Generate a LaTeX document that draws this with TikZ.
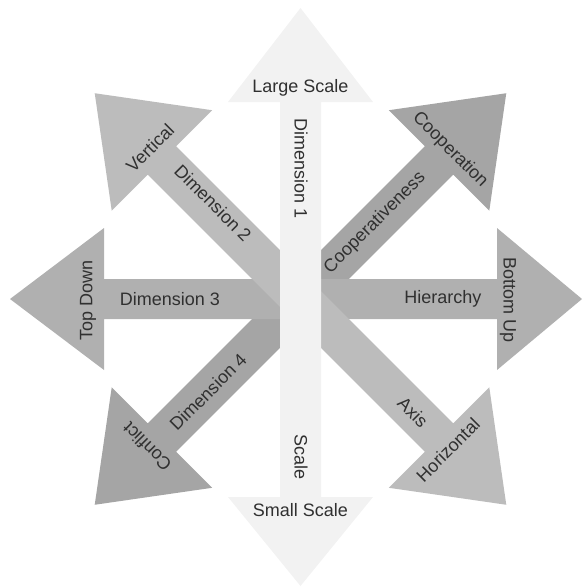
\documentclass[tikz,border=0pt]{standalone}
\usepackage{fontspec}
\setmainfont{Liberation Sans}
\definecolor{vlight}{HTML}{F2F2F2}
\definecolor{hgray}{HTML}{B0B0B0}
\definecolor{lgray}{HTML}{BCBCBC}
\definecolor{dgray}{HTML}{A5A5A5}
\definecolor{txt}{HTML}{303030}
\newcommand\diagarrow[2]{%
  \fill[#2, shift={(C)}, rotate=#1] (0,-20) -- (196,-20) -- (196,-71) -- (291,0) -- (196,71) -- (196,20) -- (0,20) -- cycle;}
\begin{document}
\begin{tikzpicture}[x=1pt,y=-1pt,
  lbl/.style={font=\fontsize{18}{20}\selectfont, text=txt, inner sep=0pt}]
\useasboundingbox (0,0) rectangle (583,587);
\coordinate (C) at (300.5,299);
% lower diagonals
\diagarrow{45}{dgray}
\diagarrow{225}{dgray}
% horizontal double arrow
\fill[hgray] (10,299) -- (104,228) -- (104,279) -- (497,279) -- (497,228) -- (582,299)
  -- (497,370) -- (497,319) -- (104,319) -- (104,370) -- cycle;
% upper diagonals
\diagarrow{135}{lgray}
\diagarrow{315}{lgray}
% vertical double arrow
\fill[vlight] (300.5,8) -- (373,102) -- (321,102) -- (321,497) -- (373,497) -- (300.5,586)
  -- (228,497) -- (280,497) -- (280,102) -- (228,102) -- cycle;
% labels
\node[lbl] (ls) at (300.5,88) {Large Scale};
\node[lbl, rotate=-90] (d1) at (301,169) {Dimension 1};
\node[lbl, rotate=-90] (sc) at (301,457) {Scale};
\node[lbl] (ss) at (300.5,510) {Small Scale};
\node[lbl] (d3) at (170,299) {Dimension 3};
\node[lbl, rotate=90] (td) at (88,300) {Top Down};
\node[lbl] (hi) at (443,299) {Hierarchy};
\node[lbl, rotate=-90] (bu) at (508,300) {Bottom Up};
\node[lbl, rotate=45] (ve) at (150,148) {Vertical};
\node[lbl, rotate=-45] (d2) at (213,203) {Dimension 2};
\node[lbl, rotate=-45] (co) at (450,150) {Cooperation};
\node[lbl, rotate=45] (cv) at (375,223) {Cooperativeness};
\node[lbl, rotate=45] (d4) at (208,392) {Dimension 4};
\node[lbl, rotate=135] (cf) at (147,447) {Conflict};
\node[lbl, rotate=-45] (ax) at (413,412) {Axis};
\node[lbl, rotate=45] (ho) at (448,450) {Horizontal};
\end{tikzpicture}
\end{document}
